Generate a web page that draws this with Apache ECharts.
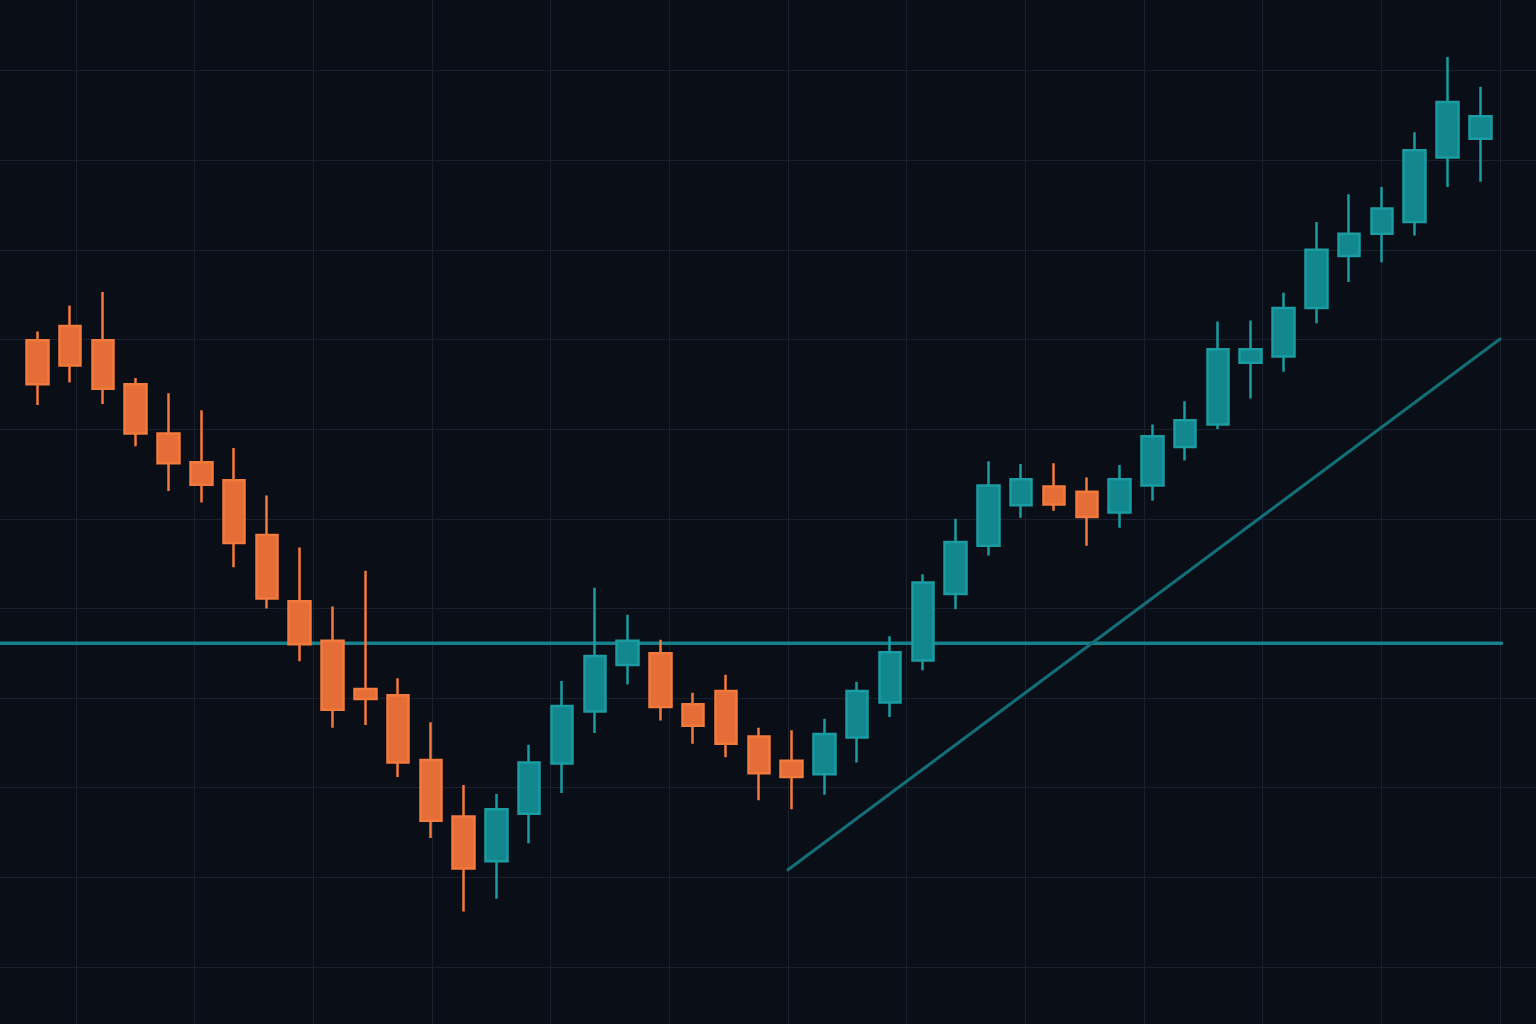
<!DOCTYPE html>
<html>
<head>
<meta charset="utf-8">
<title>Candles</title>
<script src="https://cdn.jsdelivr.net/npm/echarts@6/dist/echarts.min.js"></script>
<style>
  html, body { margin: 0; padding: 0; background: #0a0e17; }
  #chart { width: 1536px; height: 1024px; }
</style>
</head>
<body>
<div id="chart"></div>
<script>
// one entry per session: [open, close, low, high]
const sessions = [
  'S01','S02','S03','S04','S05','S06','S07','S08','S09','S10',
  'S11','S12','S13','S14','S15','S16','S17','S18','S19','S20',
  'S21','S22','S23','S24','S25','S26','S27','S28','S29','S30',
  'S31','S32','S33','S34','S35','S36','S37','S38','S39','S40',
  'S41','S42','S43','S44','S45'
];

const opens  = [159.9,161.5,159.9,155.0,149.5,146.3,144.3,138.2,130.8,126.4,
                121.0,120.3,113.1,106.8,101.8,107.1,112.7,118.5,123.7,125.0,
                119.3,120.8,115.7,113.0,111.5,115.6,119.5,124.2,131.6,137.0,
                141.5,143.6,143.0,140.7,143.7,148.0,150.5,157.4,158.1,163.5,
                169.3,171.8,173.1,180.3,182.4];
const closes = [155.0,157.1,154.5,149.5,146.2,143.8,137.3,131.1,126.0,118.7,
                119.9,112.8,106.3,101.0,107.6,112.8,119.1,124.7,126.4,119.0,
                116.9,114.9,111.6,111.2,116.0,120.8,125.1,132.9,137.4,143.7,
                144.4,141.6,140.2,144.4,149.2,151.0,158.9,158.9,163.5,170.0,
                171.8,174.6,181.1,186.5,184.9];
const lows   = [152.7,155.2,152.8,148.1,143.1,141.8,134.6,130.0,124.1,116.7,
                117.0,111.2,104.4,96.2,97.6,103.8,109.4,116.1,121.5,117.5,
                114.9,113.4,108.6,107.6,109.2,112.8,117.9,123.1,129.9,135.9,
                140.1,140.9,137.0,139.0,142.0,146.5,150.0,153.4,156.4,161.8,
                166.4,168.6,171.6,177.0,177.6];
const highs  = [160.9,163.8,165.3,155.7,154.0,152.1,147.9,142.6,136.8,130.2,
                134.2,122.2,117.3,110.3,109.3,114.8,121.9,132.3,129.3,126.5,
                120.6,122.6,116.7,116.4,117.7,121.8,126.9,133.8,140.0,146.4,
                146.1,146.2,144.6,146.0,150.5,153.1,162.0,162.1,165.2,173.1,
                176.2,177.0,183.1,191.5,188.2];

// support level and rising trend line; x runs over the vertical grid cells
const supportLevel = 126.1;
const supportSpan = [-0.64, 12.014];
const trendStart = [6.0, 100.85];
const trendEnd = [12.0, 160.05];

const candles = sessions.map((s, i) => [opens[i], closes[i], lows[i], highs[i]]);

const chart = echarts.init(document.getElementById('chart'));

const upFill = '#12878d';
const upEdge = '#1a9ca2';
const downFill = '#e46d38';
const downEdge = '#f27a3c';
const gridColor = '#1a2130';

const plotTop = 70.5;
const plotBottom = 57;
const hidden = {
  axisLine: { show: false }, axisTick: { show: false },
  axisLabel: { show: false }, splitLine: { show: false }
};

chart.setOption({
  backgroundColor: '#0a0e17',
  animation: false,
  grid: [
    // 0: horizontal rules, full width
    { left: 0, right: 0, top: plotTop, bottom: plotBottom },
    // 1: vertical rules, full height
    { left: 76, right: 36, top: 0, bottom: 0 },
    // 2: drawn lines, from the left edge
    { left: 0, right: 36, top: plotTop, bottom: plotBottom },
    // 3: candles
    { left: 20.9, right: 39.3, top: plotTop, bottom: plotBottom }
  ],
  xAxis: [
    { gridIndex: 0, type: 'value', min: 0, max: 1, ...hidden },
    {
      gridIndex: 1, type: 'value', min: 0, max: 12, interval: 1, ...hidden,
      splitLine: { show: true, lineStyle: { color: gridColor, width: 1 } }
    },
    { gridIndex: 2, type: 'value', min: -0.64, max: 12, ...hidden },
    { gridIndex: 3, type: 'category', data: sessions, boundaryGap: true, ...hidden }
  ],
  yAxis: [
    {
      gridIndex: 0, type: 'value', min: 90, max: 190, interval: 10, ...hidden,
      splitLine: { show: true, lineStyle: { color: gridColor, width: 1 } }
    },
    { gridIndex: 1, type: 'value', min: 0, max: 1, ...hidden },
    { gridIndex: 2, type: 'value', min: 90, max: 190, ...hidden },
    { gridIndex: 3, type: 'value', min: 90, max: 190, ...hidden }
  ],
  series: [
    {
      name: 'support',
      type: 'line',
      xAxisIndex: 2, yAxisIndex: 2,
      data: [[supportSpan[0], supportLevel], [supportSpan[1], supportLevel]],
      symbol: 'none',
      clip: false,
      lineStyle: { color: '#17808a', width: 3.5, cap: 'round' },
      z: 1
    },
    {
      name: 'trend',
      type: 'line',
      xAxisIndex: 2, yAxisIndex: 2,
      data: [trendStart, trendEnd],
      symbol: 'none',
      clip: false,
      lineStyle: { color: '#126f78', width: 3, cap: 'round' },
      z: 1
    },
    {
      name: 'price',
      type: 'candlestick',
      xAxisIndex: 3, yAxisIndex: 3,
      data: candles,
      barWidth: 22,
      clip: false,
      itemStyle: {
        color: upFill,
        color0: downFill,
        borderColor: upEdge,
        borderColor0: downEdge,
        borderWidth: 2.5
      },
      z: 5
    }
  ]
});
</script>
</body>
</html>
